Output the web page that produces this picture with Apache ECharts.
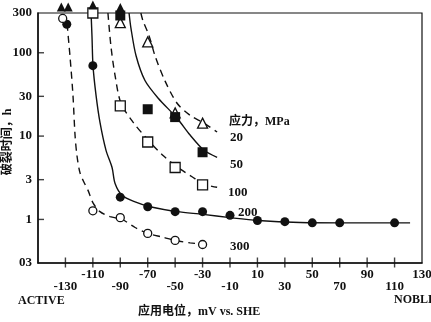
<!DOCTYPE html>
<html>
<head>
<meta charset="utf-8">
<script src="https://cdn.jsdelivr.net/npm/echarts/dist/echarts.min.js"></script>
<style>
  html, body { margin: 0; padding: 0; background: #fff; }
  #chart { width: 431px; height: 322px; }
</style>
</head>
<body>
<div id="chart"></div>
<script>
// Applied potential (mV vs. SHE) tick positions and labels
const xTicks = [-130, -110, -90, -70, -50, -30, -10, 10, 30, 50, 70, 90, 110, 130];
const xTickLabels = ['-130', '-110', '-90', '-70', '-50', '-30', '-10', '10', '30', '50', '70', '90', '110', '130'];
// Time to failure (h) tick positions and labels
const yTicks = [300, 100, 30, 10, 3, 1, 0.3];
const yTickLabels = ['300', '100', '30', '10', '3', '1', '03'];

// Measured points per stress level: [potential mV, time h]
const pts20 = [[-90, 230], [-70, 135], [-50, 19], [-30, 14.3]];
const pts50 = [[-90, 280], [-70, 21], [-50, 16.9], [-30, 6.4]];
const pts100 = [[-110, 300], [-90, 23], [-70, 8.5], [-50, 4.2], [-30, 2.6]];
const pts200 = [[-129, 220], [-110, 70], [-90, 1.85], [-70, 1.42], [-50, 1.24], [-30, 1.24],
                [-10, 1.12], [10, 0.97], [30, 0.94], [50, 0.91], [70, 0.91], [110, 0.91]];
const pts300 = [[-132, 258], [-110, 1.27], [-90, 1.05], [-70, 0.68], [-50, 0.56], [-30, 0.5]];
// Specimens that did not fail within the test period
const ptsRunout = [[-133, 355], [-128, 355], [-110, 375], [-90, 350]];

// Fitted trend curves
const fit20 = [[-75, 300], [-73.4, 240], [-69.8, 173], [-67.6, 135], [-64.7, 92], [-57.4, 46],
               [-48.6, 24.8], [-39, 17.7], [-29, 14.3], [-19.4, 11.2]];
const fit50 = [[-83.6, 300], [-82.2, 196], [-78.5, 92], [-72, 46.4], [-62.5, 28.7], [-48.6, 16.4],
               [-39.1, 10.3], [-28.9, 6.75], [-19.4, 5.55]];
const fit100 = [[-99, 300], [-96.8, 119], [-93.8, 53.2], [-89.5, 24.8], [-80.7, 14.7], [-69, 8.7],
                [-58.8, 5.86], [-47.9, 4.19], [-37.7, 3.25], [-28.2, 2.63], [-19.4, 2.43]];
const fit200 = [[-111.3, 300], [-110.6, 152], [-109.9, 70], [-107.7, 31], [-104.8, 14.6], [-100.4, 6.75],
                [-96, 4.2], [-93.8, 2.7], [-88.7, 1.95], [-79.2, 1.62], [-68.3, 1.42], [-48.6, 1.24],
                [-29.6, 1.15], [-10, 1.05], [10.5, 0.97], [41.1, 0.92], [77.6, 0.91], [121.3, 0.91]];
const fit300 = [[-128.8, 222], [-126.7, 92], [-124.5, 30.8], [-123, 10.3], [-121.6, 5.86], [-119.4, 3.64],
                [-116.4, 2.77], [-113.5, 2.23], [-109.9, 1.58], [-104.8, 1.24], [-97.5, 1.08], [-88.7, 1.0],
                [-79.2, 0.8], [-69.8, 0.68], [-59.6, 0.615], [-49.3, 0.557], [-39.1, 0.523], [-28.9, 0.506],
                [-23.1, 0.49]];

const X_MIN = -150, X_MAX = 130, Y_MIN = 0.3, Y_MAX = 300;

// Latin glyphs in a bold serif; CJK glyphs fall through to Noto Sans CJK
const serif = '"Liberation Serif", "Noto Sans CJK SC", serif';
const ink = '#111';

function curve(data, dashed) {
  return {
    type: 'line', data: data, showSymbol: false, smooth: 0.3, silent: true,
    lineStyle: { color: ink, width: 1.4, type: dashed ? [7, 5] : 'solid' }, z: 2
  };
}
function marks(data, symbol, filled, size) {
  return {
    type: 'scatter', data: data, symbol: symbol, symbolSize: size, clip: false, z: 5,
    itemStyle: { color: filled ? ink : '#fff', borderColor: ink, borderWidth: filled ? 0 : 1.3, opacity: 1 }
  };
}
// Tick marks placed on the axes through the coordinate system
function tickMarks(data, size, offset) {
  return {
    type: 'scatter', data: data, symbol: 'rect', symbolSize: size, symbolOffset: offset,
    clip: false, silent: true, z: 6, itemStyle: { color: ink }
  };
}

const chart = echarts.init(document.getElementById('chart'), null, { renderer: 'canvas' });
chart.setOption({
  animation: false,
  backgroundColor: '#fff',
  grid: {
    left: 38, right: 9, top: 13, bottom: 59, containLabel: false, outerBoundsMode: 'none',
    show: true, borderColor: ink, borderWidth: 1.2, backgroundColor: 'transparent'
  },
  xAxis: {
    type: 'value', min: X_MIN, max: X_MAX,
    axisLine: { onZero: false, lineStyle: { color: ink, width: 1.5 } },
    splitLine: { show: false },
    axisTick: { show: false },
    axisLabel: {
      customValues: xTicks, hideOverlap: false, margin: 6,
      color: ink, fontFamily: serif, fontWeight: 'bold', fontSize: 13, lineHeight: 12,
      formatter: function (v) {
        const i = xTicks.indexOf(v);
        const t = i >= 0 ? xTickLabels[i] : '';
        return i % 2 === 0 ? '\n' + t : t;
      }
    }
  },
  yAxis: {
    type: 'log', logBase: 10, min: Y_MIN, max: Y_MAX,
    axisLine: { show: true, onZero: false, lineStyle: { color: ink, width: 1.5 } },
    splitLine: { show: false },
    minorTick: { show: false },
    axisTick: { show: false },
    axisLabel: {
      customValues: yTicks, margin: 6, color: ink, fontFamily: serif, fontWeight: 'bold', fontSize: 13,
      formatter: function (v) {
        const i = yTicks.findIndex(function (t) { return Math.abs(t - v) / t < 1e-6; });
        return i >= 0 ? yTickLabels[i] : '';
      }
    }
  },
  series: [
    curve(fit20, true), curve(fit50, false), curve(fit100, true), curve(fit200, false), curve(fit300, true),
    marks(pts20, 'triangle', false, 10),
    marks(pts50, 'rect', true, 10),
    marks(pts100, 'rect', false, 10),
    marks(pts200, 'circle', true, 9),
    marks(pts300, 'circle', false, 8),
    marks(ptsRunout, 'triangle', true, 9),
    tickMarks(xTicks.filter(function (v) { return v < X_MAX; }).map(function (v) { return [v, Y_MIN]; }), [1.4, 10], [0, -0.5]),
    tickMarks(yTicks.filter(function (v) { return v > Y_MIN && v < Y_MAX; }).map(function (v) { return [X_MIN, v]; }), [6, 1.4], [3, 0])
  ],
  graphic: [
    { type: 'text', x: 8, y: 142, rotation: Math.PI / 2, style: { text: '破裂时间，h', fill: ink, font: 'bold 12px ' + serif, align: 'center', verticalAlign: 'middle' } },
    { type: 'text', x: 229, y: 122, style: { text: '应力，MPa', fill: ink, font: 'bold 12px ' + serif, verticalAlign: 'middle' } },
    { type: 'text', x: 230, y: 138, style: { text: '20', fill: ink, font: 'bold 13px ' + serif, verticalAlign: 'middle' } },
    { type: 'text', x: 230, y: 165, style: { text: '50', fill: ink, font: 'bold 13px ' + serif, verticalAlign: 'middle' } },
    { type: 'text', x: 228, y: 193, style: { text: '100', fill: ink, font: 'bold 13px ' + serif, verticalAlign: 'middle' } },
    { type: 'text', x: 238, y: 213, style: { text: '200', fill: ink, font: 'bold 13px ' + serif, verticalAlign: 'middle' } },
    { type: 'text', x: 230, y: 247, style: { text: '300', fill: ink, font: 'bold 13px ' + serif, verticalAlign: 'middle' } },
    { type: 'text', x: 18, y: 301, style: { text: 'ACTIVE', fill: ink, font: 'bold 12px ' + serif, verticalAlign: 'middle' } },
    { type: 'text', x: 394, y: 300, style: { text: 'NOBLE', fill: ink, font: 'bold 12px ' + serif, verticalAlign: 'middle' } },
    { type: 'text', x: 138, y: 312, style: { text: '应用电位，mV vs. SHE', fill: ink, font: 'bold 12px ' + serif, verticalAlign: 'middle' } }
  ]
});
</script>
</body>
</html>
